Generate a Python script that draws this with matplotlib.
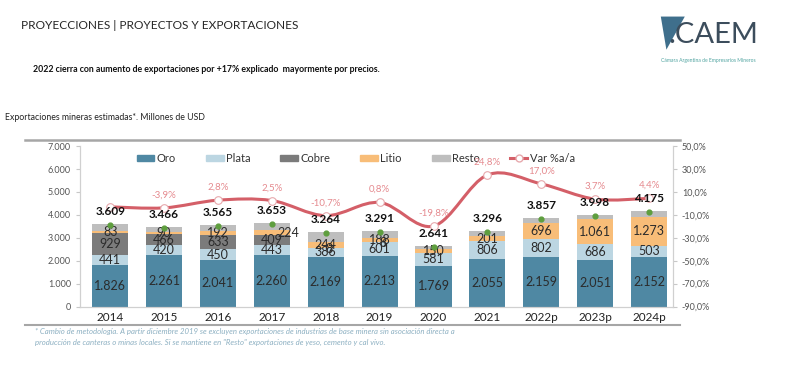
import numpy as np
import matplotlib
matplotlib.use("Agg")
import matplotlib.pyplot as plt
from matplotlib.path import Path
from matplotlib.patches import PathPatch, Patch, Polygon
from matplotlib.lines import Line2D
from matplotlib.ticker import FuncFormatter

# data (millones de USD)
years = ["2014", "2015", "2016", "2017", "2018", "2019", "2020", "2021", "2022p", "2023p", "2024p"]
oro = [1826, 2261, 2041, 2260, 2169, 2213, 1769, 2055, 2159, 2051, 2152]
plata = [441, 420, 450, 443, 386, 601, 581, 806, 802, 686, 503]
cobre = [929, 466, 633, 409, 8, 8, 0, 0, 0, 0, 0]
litio = [83, 90, 192, 224, 244, 188, 150, 201, 696, 1061, 1273]
totales = [3609, 3466, 3565, 3653, 3264, 3291, 2641, 3296, 3857, 3998, 4175]
var_pct = [-3.0, -3.9, 2.8, 2.5, -10.7, 0.8, -19.8, 24.8, 17.0, 3.7, 4.4]
var_labels = ["", "-3,9%", "2,8%", "2,5%", "-10,7%", "0,8%", "-19,8%", "24,8%", "17,0%", "3,7%", "4,4%"]

resto = [t - o - p - c - l for t, o, p, c, l in zip(totales, oro, plata, cobre, litio)]

c_oro = "#4F88A3"
c_plata = "#BCD6E2"
c_cobre = "#7B7B7B"
c_litio = "#F8BD78"
c_resto = "#BEBEBE"
c_var = "#D45F68"
c_txt = "#2B2B2B"

plt.rcParams["font.family"] = ["Lato", "DejaVu Sans"]


def miles(v):
    return f"{v:,.0f}".replace(",", ".")


fig = plt.figure(figsize=(8, 3.68), dpi=100)
fig.patch.set_facecolor("white")

# header
fig.text(0.026, 0.93, "PROYECCIONES | PROYECTOS Y EXPORTACIONES",
         fontsize=8.6, color="#262626", va="center")
fig.text(0.041, 0.81, "2022 cierra con aumento de exportaciones por +17% explicado  mayormente por precios.",
         fontsize=6.3, fontweight="bold", color="#111111", va="center")
fig.text(0.006, 0.68, "Exportaciones mineras estimadas*. Millones de USD",
         fontsize=6.3, color="#222222", va="center")

# logo
fig.patches.append(Polygon([[0.826, 0.955], [0.856, 0.955], [0.833, 0.865]], closed=True,
                           transform=fig.transFigure, facecolor="#3F6F8C", edgecolor="none"))
fig.text(0.835, 0.905, ".CAEM", fontsize=21, color="#3C4D5C", va="center")
fig.text(0.826, 0.835, "Cámara Argentina de Empresarios Mineros", fontsize=3.6,
         color="#4FA3A0", va="center")

# separators
fig.add_artist(Line2D([0.031, 0.85], [0.62, 0.62], transform=fig.transFigure,
                      color="#A6A6A6", lw=1.8))
fig.add_artist(Line2D([0.031, 0.85], [0.117, 0.117], transform=fig.transFigure,
                      color="#A6A6A6", lw=1.5))

# footnote
fig.text(0.044, 0.098, "* Cambio de metodología. A partir diciembre 2019 se excluyen exportaciones de industrias de base minera sin asociación directa a",
         fontsize=5.6, style="italic", color="#8DB0C2", va="center")
fig.text(0.044, 0.07, "producción de canteras o minas locales. Si se mantiene en \"Resto\" exportaciones de yeso, cemento y cal vivo.",
         fontsize=5.6, style="italic", color="#8DB0C2", va="center")

ax = fig.add_axes([0.1, 0.167, 0.741, 0.436])
ax2 = ax.twinx()

x = np.arange(len(years))
w = 0.67
series = [(oro, c_oro), (plata, c_plata), (cobre, c_cobre), (litio, c_litio), (resto, c_resto)]
bottom = np.zeros(len(years))
centers = []
for vals, col in series:
    ax.bar(x, vals, w, bottom=bottom, color=col, edgecolor="none", zorder=2)
    centers.append(bottom + np.array(vals) / 2)
    bottom = bottom + np.array(vals)

# segment labels (no labels for Resto)
for k, (vals, col) in enumerate(series[:4]):
    for i, v in enumerate(vals):
        if v == 0:
            continue
        dx, dy = 0, 0
        if k == 3 and years[i] == "2017":
            dx = 0.3
        if k == 2 and v < 50:
            dx, dy = 0.06, -40
        ax.text(x[i] + dx, centers[k][i] + dy, miles(v), ha="center", va="center",
                fontsize=9, color=c_txt, zorder=5)

ax.scatter(x, np.array(totales) - 40, s=12, color="#5E9E3E", zorder=6)

ax.set_ylim(0, 7000)
ax.set_yticks(np.arange(0, 7001, 1000))
ax.yaxis.set_major_formatter(FuncFormatter(lambda v, p: miles(v)))
ax.set_xlim(-0.56, 10.44)
ax.set_xticks(x)
ax.set_xticklabels(years, fontsize=8.5, color="#222222")

ax2.set_ylim(-90, 50)
ax2.set_yticks(np.arange(-90, 51, 20))
ax2.yaxis.set_major_formatter(FuncFormatter(lambda v, p: f"{v:.1f}%".replace(".", ",")))

for a in (ax, ax2):
    a.spines["top"].set_visible(False)
    a.spines["left"].set_color("#D0D0D0")
    a.spines["right"].set_color("#D0D0D0")
    a.spines["bottom"].set_color("#D0D0D0")
    a.tick_params(axis="y", labelsize=6.5, labelcolor="#555555", color="#C8C8C8", length=3)
ax.tick_params(axis="x", length=0, pad=4)

# smoothed Var line (Catmull-Rom -> Bezier through the data points)
pts = np.column_stack([x, var_pct]).astype(float)
ext = np.vstack([pts[0], pts, pts[-1]])
verts = [tuple(pts[0])]
codes = [Path.MOVETO]
for i in range(len(pts) - 1):
    p0, p1, p2, p3 = ext[i], ext[i + 1], ext[i + 2], ext[i + 3]
    verts += [tuple(p1 + (p2 - p0) / 6), tuple(p2 - (p3 - p1) / 6), tuple(p2)]
    codes += [Path.CURVE4] * 3
ax2.add_patch(PathPatch(Path(verts, codes), facecolor="none", edgecolor=c_var, lw=2.2, zorder=4))
ax2.plot(x, var_pct, ls="none", marker="o", ms=5.5, mfc="white", mec="#E7A9AD", mew=0.8, zorder=5)
for i, lab in enumerate(var_labels):
    if lab:
        ax2.annotate(lab, (x[i], var_pct[i]), xytext=(0, 6), textcoords="offset points",
                     ha="center", va="bottom", fontsize=7, color="#E58A8F", zorder=6)

# totals, drawn on ax2 so they sit over the line
for i, t in enumerate(totales):
    ax2.annotate(miles(t), (x[i], t), xycoords=ax.transData, xytext=(0, 9),
                 textcoords="offset points", ha="center", va="center", fontsize=8.5,
                 fontweight="bold", color="#111111", zorder=7)

handles = [Patch(color=c_oro), Patch(color=c_plata), Patch(color=c_cobre),
           Patch(color=c_litio), Patch(color=c_resto),
           Line2D([], [], color=c_var, lw=2.2, marker="o", ms=5, mfc="white", mec="#E7A9AD")]
names = ["Oro", "Plata", "Cobre", "Litio", "Resto", "Var %a/a"]
ax2.legend(handles, names, loc="upper center", bbox_to_anchor=(0.465, 1.02), ncol=6,
           frameon=False, fontsize=8, handlelength=1.6, handleheight=0.5,
           columnspacing=2.7, handletextpad=0.2, labelcolor="#333333")

fig.savefig("out.png", dpi=100, facecolor="white")
